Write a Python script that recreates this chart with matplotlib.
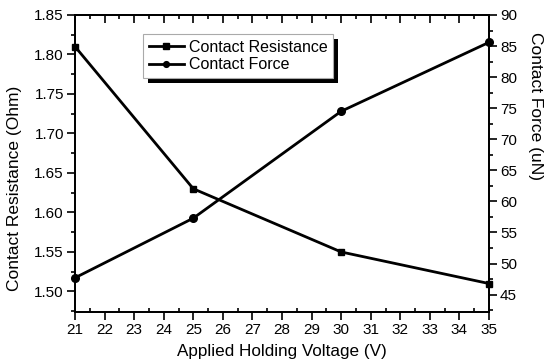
import matplotlib
matplotlib.use("Agg")
import matplotlib.pyplot as plt
from matplotlib.ticker import MultipleLocator
from matplotlib.patches import Rectangle
from matplotlib.transforms import IdentityTransform

plt.rcParams['font.family'] = ['Liberation Sans', 'DejaVu Sans']

voltage = [21, 25, 30, 35]
resistance = [1.81, 1.63, 1.55, 1.51]
force = [47.7, 57.3, 74.5, 85.6]

fig = plt.figure(figsize=(5.5, 3.64), dpi=100)
ax = fig.add_axes([0.1364, 0.1429, 0.7527, 0.8159])
ax2 = ax.twinx()

l1, = ax.plot(voltage, resistance, color='black', lw=2, marker='s', ms=5, clip_on=False, zorder=5)
l2, = ax2.plot(voltage, force, color='black', lw=2, marker='o', ms=5.5, clip_on=False, zorder=5)

ax.set_xlim(21, 35)
ax.set_ylim(1.474, 1.85)
ax2.set_ylim(42.2, 90)

ax.xaxis.set_major_locator(MultipleLocator(1))
ax.xaxis.set_minor_locator(MultipleLocator(0.5))
ax.yaxis.set_major_locator(MultipleLocator(0.05))
ax.yaxis.set_minor_locator(MultipleLocator(0.025))
ax.yaxis.set_major_formatter(matplotlib.ticker.FormatStrFormatter('%.2f'))
ax2.yaxis.set_major_locator(MultipleLocator(5))
ax2.yaxis.set_minor_locator(MultipleLocator(2.5))

for a in (ax, ax2):
    for s in a.spines.values():
        s.set_linewidth(1.3)

ax.tick_params(axis='x', which='major', direction='out', length=6, width=1.2, labelsize=11, pad=2)
ax.tick_params(axis='x', which='minor', direction='in', length=3, width=1.2)
ax.tick_params(axis='y', which='major', direction='out', length=6, width=1.2, labelsize=11, pad=2)
ax.tick_params(axis='y', which='minor', direction='out', length=3, width=1.2)
ax2.tick_params(axis='y', which='major', direction='out', length=6, width=1.2, labelsize=11, pad=2)
ax2.tick_params(axis='y', which='minor', direction='out', length=3, width=1.2)

top = ax.secondary_xaxis('top')
top.xaxis.set_major_locator(MultipleLocator(1))
top.xaxis.set_minor_locator(MultipleLocator(0.5))
top.tick_params(which='major', direction='in', length=6, width=1.2, labeltop=False)
top.tick_params(which='minor', direction='in', length=3, width=1.2)
top.spines['top'].set_linewidth(1.3)

ax.set_xlabel('Applied Holding Voltage (V)', fontsize=12.3, labelpad=5)
ax.set_ylabel('Contact Resistance (Ohm)', fontsize=12.5, va='center', ha='center')
ax2.set_ylabel('Contact Force (uN)', fontsize=12.5, rotation=270, va='center', ha='center')
ax.yaxis.set_label_coords(-0.147, 0.417)
ax2.yaxis.set_label_coords(1.113, 0.694)

leg = ax2.legend([l1, l2], ['Contact Resistance', 'Contact Force'],
                 loc='upper left', bbox_to_anchor=(0.165, 0.935),
                 fontsize=11.5, frameon=True, fancybox=False, shadow=False,
                 framealpha=1, facecolor='white',
                 handlelength=2.2, handletextpad=0.3, borderpad=0.35,
                 labelspacing=0.15, borderaxespad=0, markerscale=0.75)
leg.get_frame().set_edgecolor('#aaaaaa')
leg.get_frame().set_linewidth(0.8)
leg.set_zorder(10)

fig.canvas.draw()
bb = leg.get_window_extent()
shadow = Rectangle((bb.x0 + 5, bb.y0 - 5), bb.width, bb.height, transform=IdentityTransform(),
                   facecolor='black', edgecolor='none', zorder=9, clip_on=False)
ax2.add_patch(shadow)

fig.savefig('out.png', dpi=100)
